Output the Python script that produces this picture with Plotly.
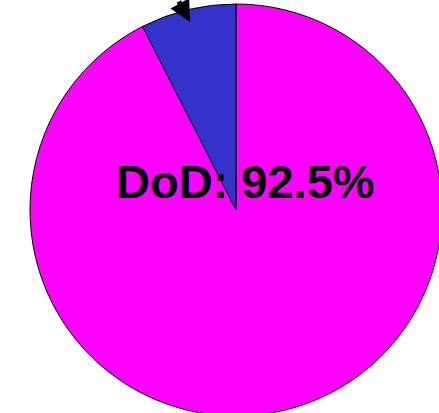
import plotly.graph_objects as go

labels = ["DoD", "Other"]
values = [92.5, 7.5]
colors = ["#FF00FF", "#3333CC"]

# figure is a bit larger than the window; the pie runs off the right and bottom edges
W, H = 450, 420
cx, cy, r = 236, 210, 206

fig = go.Figure()
fig.add_trace(
    go.Pie(
        labels=labels,
        values=values,
        marker=dict(colors=colors, line=dict(color="black", width=1)),
        sort=False,
        direction="clockwise",
        rotation=0,
        textinfo="none",
        hoverinfo="label+percent",
        showlegend=False,
        domain=dict(x=[(cx - r) / W, (cx + r) / W], y=[1 - (cy + r) / H, 1 - (cy - r) / H]),
    )
)

fig.add_annotation(
    x=246 / W, y=1 - 181 / H, xref="paper", yref="paper",
    text="<b>DoD: %.1f%%</b>" % values[0], showarrow=False,
    font=dict(family="Liberation Sans, Arial", size=47, color="black"),
)
fig.add_annotation(
    x=190 / W, y=1 - 22 / H, xref="paper", yref="paper",
    text="", showarrow=True, arrowhead=2, arrowsize=0.85, arrowwidth=5,
    arrowcolor="black", ax=-12, ay=-34,
)

fig.update_layout(
    width=W, height=H,
    margin=dict(l=0, r=0, t=0, b=0),
    paper_bgcolor="white", plot_bgcolor="white",
)
fig.write_html(
    "out.html",
    config={"displayModeBar": False},
    post_script="document.body.style.margin='0';document.body.style.overflow='hidden';",
)
